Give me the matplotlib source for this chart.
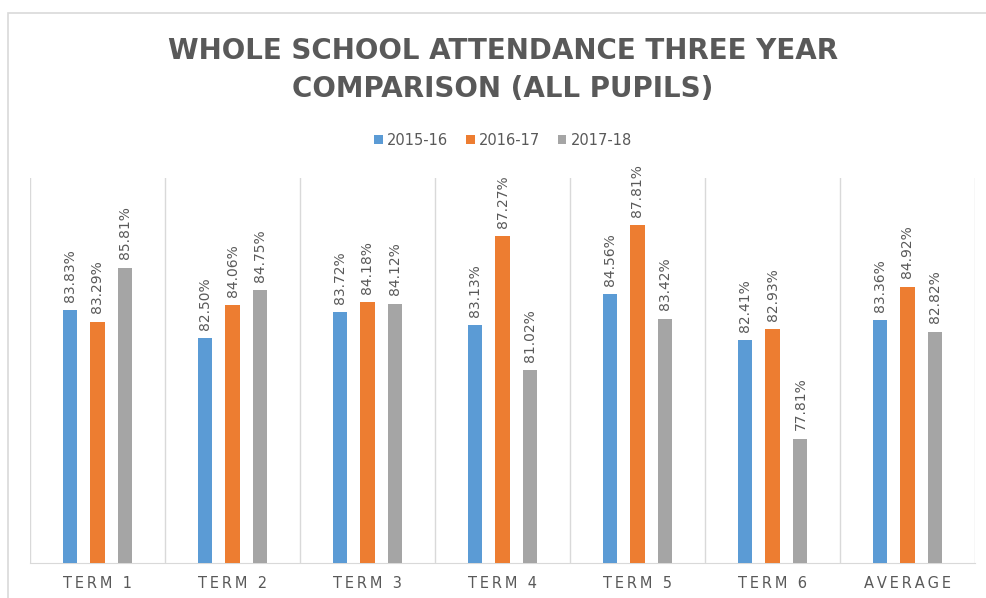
import matplotlib.pyplot as plt
import numpy as np
from matplotlib.patches import Rectangle

categories = ["TERM 1", "TERM 2", "TERM 3", "TERM 4", "TERM 5", "TERM 6", "AVERAGE"]
series_names = ["2015-16", "2016-17", "2017-18"]
y2015 = [83.83, 82.50, 83.72, 83.13, 84.56, 82.41, 83.36]
y2016 = [83.29, 84.06, 84.18, 87.27, 87.81, 82.93, 84.92]
y2017 = [85.81, 84.75, 84.12, 81.02, 83.42, 77.81, 82.82]
colors = ["#5b9bd5", "#ed7d31", "#a5a5a5"]

txt = "#595959"

fig = plt.figure(figsize=(9.86, 5.98), dpi=100)
fig.patches.append(Rectangle((8 / 986, -0.1), 1.1, 1 - 13 / 598 + 0.1,
                             transform=fig.transFigure, fill=False,
                             edgecolor="#d9d9d9", linewidth=1.2))

ax = fig.add_axes([30 / 986, 1 - 563 / 598, 945 / 986, 385 / 598])
x = np.arange(len(categories))
slot = 0.207
width = 0.104
for i, (vals, name) in enumerate(zip([y2015, y2016, y2017], series_names)):
    pos = x + (i - 1) * slot
    ax.bar(pos, vals, width, bottom=0, color=colors[i], label=name, zorder=3)
    for p, v in zip(pos, vals):
        ax.annotate(f"{v:.2f}%", (p, v), xytext=(0, 6), textcoords="offset points",
                    rotation=90, ha="center", va="bottom", fontsize=10,
                    color=txt)

ax.set_ylim(72, 90)
ax.set_xlim(-0.5, len(categories) - 0.5)
ax.set_yticks([])
ax.set_xticks(x)
ax.set_xticklabels(["\u2009".join(c) for c in categories], fontsize=10.5, color=txt)
ax.tick_params(axis="x", length=0, pad=9)
for b in np.arange(len(categories) + 1) - 0.5:
    ax.axvline(b, color="#d9d9d9", linewidth=1, zorder=1)
for s in ["top", "left", "right"]:
    ax.spines[s].set_visible(False)
ax.spines["bottom"].set_color("#d9d9d9")

fig.text(503 / 986, 1 - 70 / 598, "WHOLE SCHOOL ATTENDANCE THREE YEAR\nCOMPARISON (ALL PUPILS)",
         ha="center", va="center", fontsize=20, fontweight="bold", color=txt,
         linespacing=1.45)

handles, labels = ax.get_legend_handles_labels()
leg = fig.legend(handles, labels, loc="center", bbox_to_anchor=(503 / 986, 1 - 140 / 598),
                 ncol=3, frameon=False, fontsize=10.5, handlelength=0.6, handleheight=0.6,
                 handletextpad=0.3, columnspacing=1.2)
for t in leg.get_texts():
    t.set_color(txt)

fig.savefig("out.png", dpi=100)
